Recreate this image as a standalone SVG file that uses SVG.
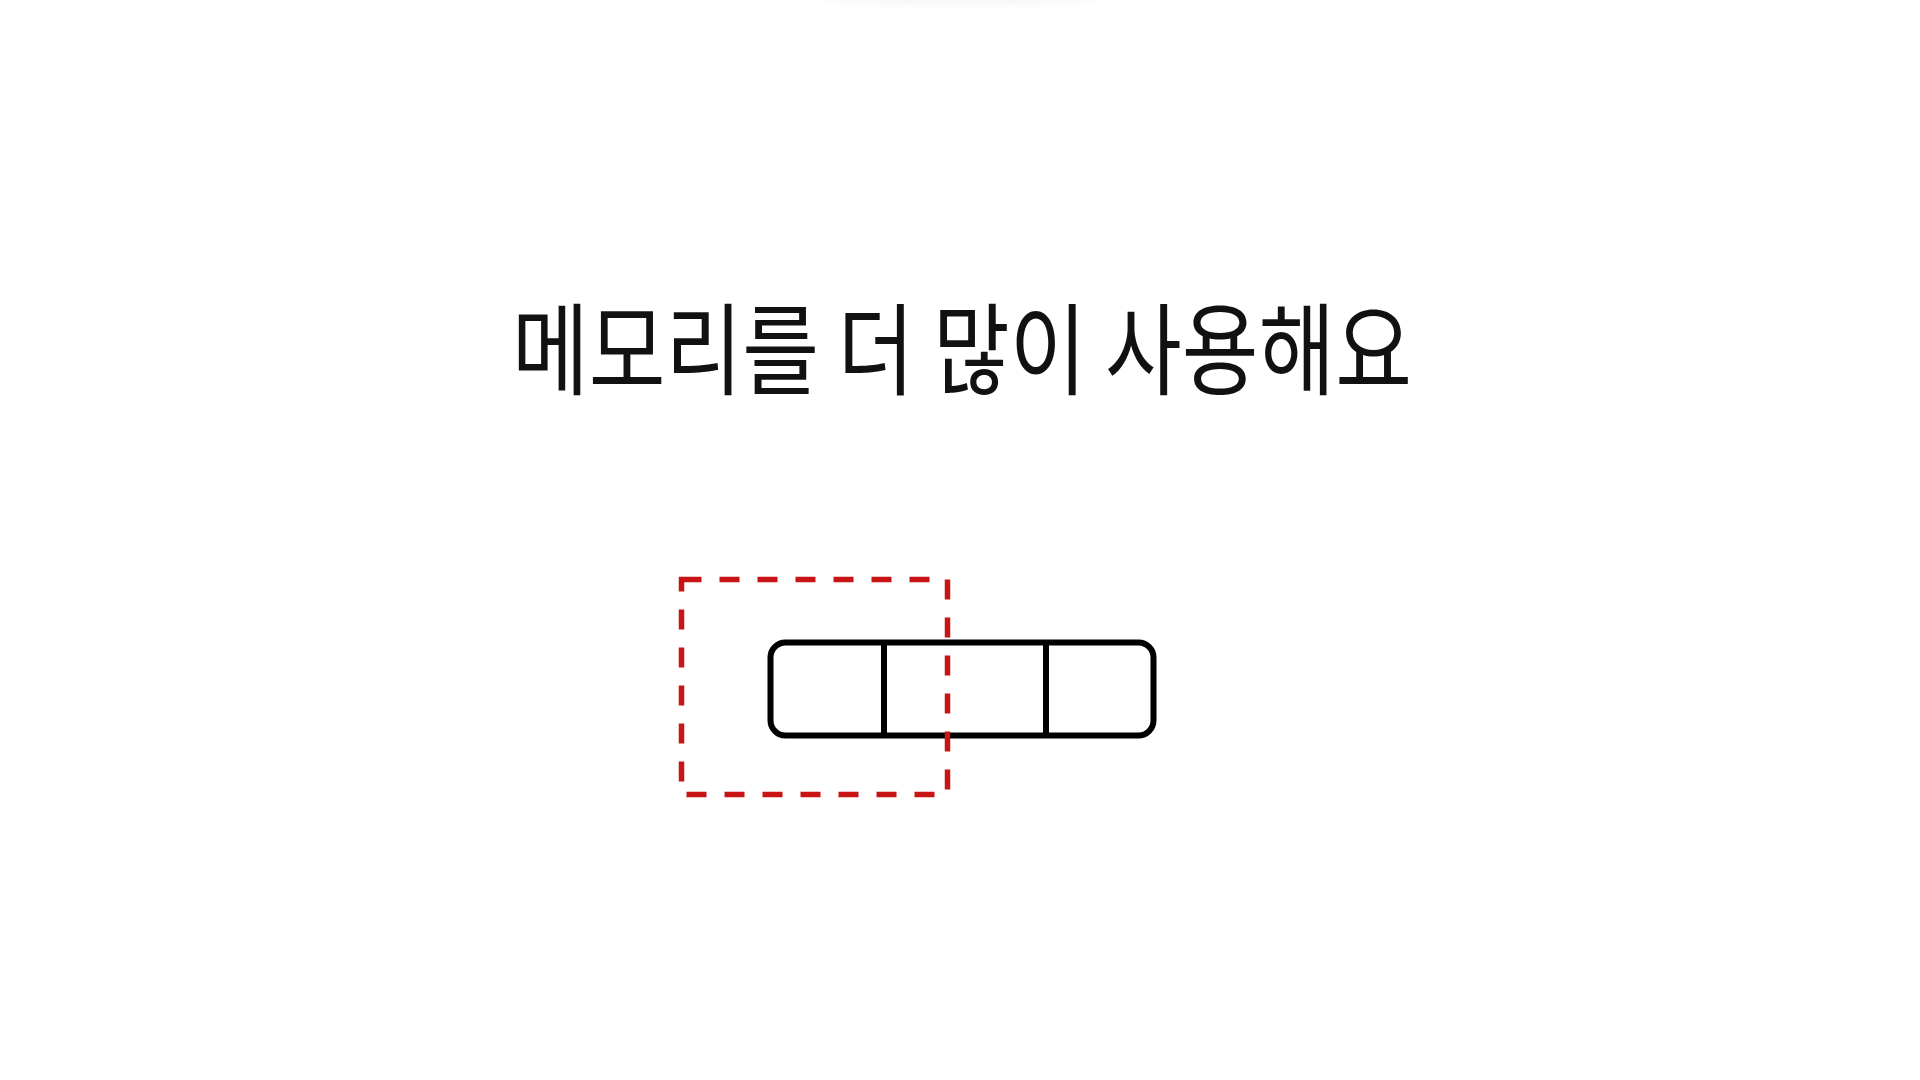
<svg xmlns="http://www.w3.org/2000/svg" width="1920" height="1080" viewBox="0 0 1920 1080">
<style>
.title{font-family:"Noto Sans CJK KR","Noto Sans",sans-serif;font-size:100px;fill:#111;text-anchor:middle}
.cell{fill:none;stroke:#000;stroke-width:6}
.sel{fill:none;stroke:#c81414;stroke-width:5.5;stroke-dasharray:20 18}
</style>
<defs>
<filter id="blur" x="-20%" y="-200%" width="140%" height="500%"><feGaussianBlur stdDeviation="5"/></filter>
</defs>
<rect width="1920" height="1080" fill="#fff"/>
<ellipse cx="960" cy="-4" rx="140" ry="8" fill="#000" opacity="0.04" filter="url(#blur)"/>
<g id="title"><text class="title" x="962" y="387" textLength="900" lengthAdjust="spacingAndGlyphs">메모리를 더 많이 사용해요</text></g>
<g id="memory">
<rect class="cell" x="770.5" y="642.5" width="383" height="93" rx="15"/>
<line class="cell" x1="884" y1="642.5" x2="884" y2="735.5"/>
<line class="cell" x1="1046" y1="642.5" x2="1046" y2="735.5"/>
</g>
<g id="selection">
<rect class="sel" x="681.5" y="579.5" width="266" height="215"/>
</g>
<g id="connectors"></g>
</svg>
